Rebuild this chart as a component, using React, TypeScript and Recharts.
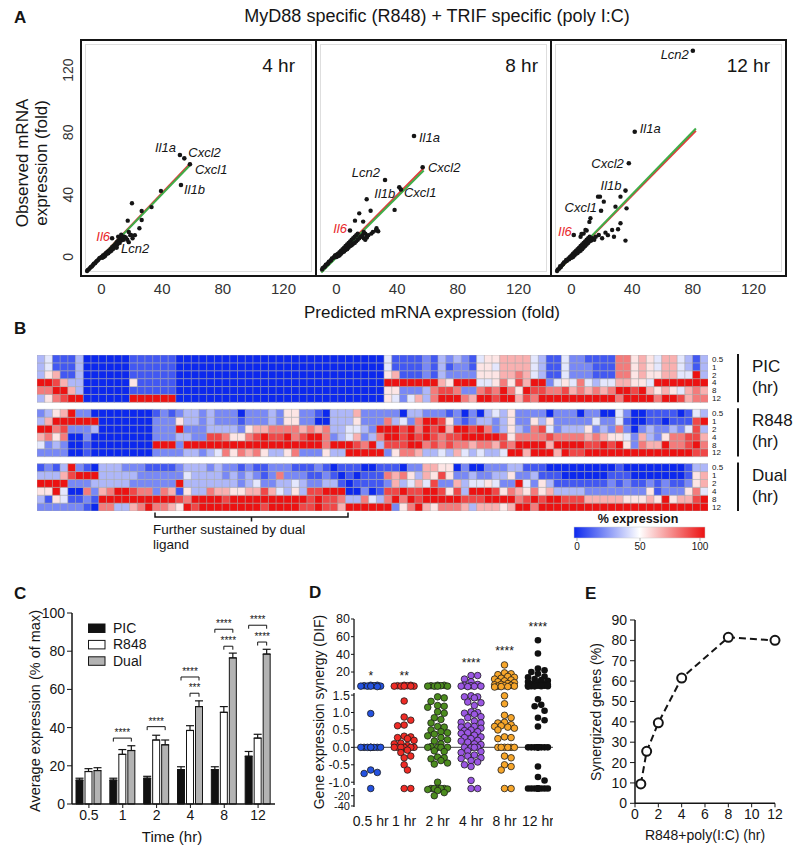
import React from "react";
import {
  ScatterChart,
  Scatter,
  XAxis,
  YAxis,
  ReferenceLine,
  BarChart,
  Bar,
  Cell,
  ErrorBar,
  LabelList,
  LineChart,
  Line,
} from "recharts";

const FONT = '"Liberation Sans", Arial, Helvetica, sans-serif';
const INK = "#151515";

/* ---------- A: observed vs predicted fold ---------- */
const hoursA = ["4 hr", "8 hr", "12 hr"];

const cloud4h: [number, number][] = [
  [-9.5, -9], [-9, -8.4], [-8.2, -7.8], [-7.5, -7], [-7, -6.5], [-6.2, -6], [-5.5, -5], [-5, -4.4],
  [-4.2, -4], [-3.5, -3], [-3, -2.6], [-2.2, -2], [-1.5, -1], [-1, -0.6], [0, 0], [0.5, -0.6],
  [1, 1], [1.5, 0], [2, 1.6], [2.5, 0.8], [3, 2.5], [3.5, 2], [4, 3.4], [4.5, 2.4], [5, 4],
  [5.5, 3.4], [6, 5], [6.5, 4], [7, 6.2], [7.5, 5], [8, 7], [8.5, 6], [9, 8], [9.5, 7], [10, 9.5],
  [10.5, 8], [11, 10.2], [12, 9], [12.5, 12], [13, 10.5], [14, 12], [14.5, 11], [15, 13], [16, 12.5],
  [17, 11], [18, 9.5], [13, 14.2], [11, 13], [19, 14], [22, 14], [18, 16], [17.3, 23.3], [20.1, 34.5],
  [26.5, 23.7], [25, 18.4], [26.5, 29.5], [33, 32], [39.2, 42.4], [19.5, 14.1], [20.5, 12],
];
const cloud8h: [number, number][] = [
  [-9.5, -8], [-9, -7], [-8, -6.5], [-7.5, -6], [-7, -5], [-6, -4.5], [-5.5, -4], [-5, -3], [-4, -2.5],
  [-3.5, -2], [-3, -1], [-2, -0.5], [-1.5, 0], [-1, 1], [0, 1.5], [0, 0], [1, 2], [1, 0.5], [2, 3],
  [2, 1], [3, 4], [3, 2], [4, 5], [4, 3], [5, 6], [5, 3.5], [6, 7], [6, 4.5], [7, 8], [7, 5], [8, 9],
  [8, 6], [9, 10], [9, 7], [10, 11], [10, 7.5], [11, 12], [11, 8.5], [12, 13], [12, 9], [13, 14],
  [13, 10], [14, 15], [14, 11], [15, 12], [16, 13], [17, 14], [18, 12], [19, 15], [20, 13], [21, 14],
  [19, 11], [24, 16], [26, 17], [27.5, 16.5], [23, 15], [12.2, 23.3], [15, 28], [19.9, 37], [22.5, 29.7],
  [26.4, 18.4], [17.6, 22.7], [38.3, 30.2], [20, 12.5], [18, 16],
];
const cloud12h: [number, number][] = [
  [-9.5, -9], [-9, -8], [-8, -7.5], [-7.5, -6], [-7, -6.5], [-6, -5], [-5.5, -4.5], [-5, -3.5], [-4, -3],
  [-3.5, -2], [-3, -2.5], [-2, -1], [-1.5, -1.5], [-1, 0], [0, 1], [0, -0.5], [1, 2], [1, 0], [2, 3],
  [2, 1], [3, 4], [3, 2], [4, 5], [4, 2.5], [5, 6], [5, 3.5], [6, 7], [6, 4], [7, 8], [7, 5], [8, 9],
  [8, 6], [9, 10], [9, 7], [10, 11], [10, 8], [11, 12], [11, 9], [12, 13], [12, 10], [13, 10.5], [14, 12],
  [15, 11], [6, 13], [8, 15], [10, 17], [11.8, 22.5], [12.5, 24.8], [9.2, 17.3], [6.6, 14.8], [17.5, 38.7],
  [18.8, 38.7], [21.3, 35.5], [29, 32.3], [32.3, 38.7], [36.3, 31.2], [32.3, 21.6], [30.7, 17.8],
  [35.6, 10.5], [26.8, 17.3], [22.4, 15.6], [18, 14.1], [20.2, 12], [16, 13], [24, 14], [28, 13],
];

const genes4h = [
  { name: "Il1a", x: 51.7, y: 65.5 },
  { name: "Cxcl2", x: 54.6, y: 63.3 },
  { name: "Cxcl1", x: 58.3, y: 59.5 },
  { name: "Il1b", x: 52.4, y: 46.2 },
  { name: "Lcn2", x: 10, y: 6 },
  { name: "Il6", x: 7, y: 12 },
];
const genes8h = [
  { name: "Lcn2", x: 32, y: 49.4 },
  { name: "Il1b", x: 41.4, y: 44.7 },
  { name: "Il1a", x: 51.1, y: 77.7 },
  { name: "Cxcl2", x: 56.8, y: 57.6 },
  { name: "Cxcl1", x: 42.5, y: 43.3 },
  { name: "Il6", x: 8.9, y: 17 },
];
const genes12h = [
  { name: "Lcn2", x: 80, y: 132.4 },
  { name: "Il1a", x: 41.7, y: 80.4 },
  { name: "Cxcl2", x: 37.8, y: 60.2 },
  { name: "Il1b", x: 35.6, y: 42.6 },
  { name: "Cxcl1", x: 19.5, y: 29.7 },
  { name: "Il6", x: 1.5, y: 14.1 },
];

// regression lines (red = fit, green = identity-ish)
const fitRed = [
  [[-10, -10], [59, 60.5]],
  [[-10, -9.5], [57.5, 57]],
  [[-10, -10], [82, 81]],
];
const fitGreen = [
  [[-10, -10], [58.5, 59]],
  [[-10, -10], [57.5, 55.5]],
  [[-10, -10], [82, 82.5]],
];

// label placement: dx, dy, anchor
const genePlace: Record<string, [number, number, "start" | "end"]> = {
  "0:Il1a": [-4, -3.3, "end"],
  "0:Cxcl2": [4, -1.6, "start"],
  "0:Cxcl1": [5, 10, "start"],
  "0:Il1b": [3, 9.3, "start"],
  "0:Lcn2": [4.3, 5.7, "start"],
  "0:Il6": [-2, 2.4, "end"],
  "1:Lcn2": [-5, -2.7, "end"],
  "1:Il1b": [-4, 10.4, "end"],
  "1:Il1a": [5, 5.7, "start"],
  "1:Cxcl2": [5.3, 4.4, "start"],
  "1:Cxcl1": [3, 7.2, "start"],
  "1:Il6": [-3, 2.2, "end"],
  "2:Lcn2": [-4, 8.3, "end"],
  "2:Il1a": [5, 1, "start"],
  "2:Cxcl2": [-5, 5, "end"],
  "2:Il1b": [-4, -0.7, "end"],
  "2:Cxcl1": [-4, 1.6, "end"],
  "2:Il6": [-2, 0.7, "end"],
};

/* ---------- B: heatmap (% of max, one digit = 0..9 -> 0..100%) ---------- */
const heatTimes = ["0.5", "1", "2", "4", "8", "12"];
const heatPIC = [
  "341113 000000 111111 000000000 000000000 000000000 41111213232145566664 3114221111775654664313",
  "341113 000000 111111 000000000 000000000 000000000 41111213122155466664 3114222111775654664313",
  "356113 000000 111111 000000000 000000000 000000000 56111213222255566764 3114222111775655664493",
  "998633 000000 511111 000000000 000000000 000000000 99999996599944575869 9245474344665549999999",
  "779963 000000 111111 000000000 000000000 000000000 55222378872278797598 8778676767998965654676",
  "357899 000000 999999 000000000 000000000 000000000 54246379997699899687 9999999999799997998677",
];
const heatR848 = [
  "2356922000000001212332 3222022232552210333622 222033222120203435222 2022202200420011110143",
  "3699999900000002225332 3222122232552200333522 273427998521233235225 3522222422410011011189",
  "9978222300000002229222 3333256677776767334432 999897989699897235327 8423335232720232232483",
  "6757002000000002223322 8875578988978997234623 799898987889999985777 7877776765542632577886",
  "4232001000000009992999 9999999999999997999879 388899787877677687999 9699998898952766977897",
  "2222001000000002222332 3475767533572225339999 925776334364343349969 9969889999999999999988",
];
const heatDual = [
  "1213921033322211112333 2322121122211121011100 111022665502002223311 1000000000100000000133",
  "3336899933333222222433 3323232127222112101011 176753658522322335223 1110000001110000000156",
  "9999222333332222229333 3333234223343223310111 126346482263445422942 5311111112121121211256",
  "5594007267998772761533 7665566864353889990020 188988998583999857657 5633332222222251222574",
  "3154112199999999998799 9989999999999898873374 379798999998889999789 8998886666655565956689",
  "2222221077336797765989 9999999899998898869999 992579657776366656997 9999999999999999999999",
];
const heatBlocks = [
  { name: "PIC", rows: heatPIC },
  { name: "R848", rows: heatR848 },
  { name: "Dual", rows: heatDual },
];
const N_GENES = 87;

/* ---------- C: average expression ---------- */
const timesC = ["0.5", "1", "2", "4", "8", "12"];
const picMean = [12.5, 12.5, 13.5, 18, 18, 25];
const picSem = [1, 1, 1, 1.5, 1.5, 2.5];
const r848Mean = [17, 26, 33.5, 38.5, 48, 34.5];
const r848Sem = [1.5, 2.5, 2.5, 2.5, 3, 2];
const dualMean = [17.5, 28, 31, 51, 76.5, 78.5];
const dualSem = [1.5, 2.5, 2.5, 3, 2.5, 2.5];
const sigPicDual = ["", "****", "****", "****", "****", "****"];
const sigPicDualAt = [0, 34.5, 40.5, 66.5, 91.5, 93.6];
const sigR848Dual = ["", "", "", "***", "****", "****"];
const sigR848DualAt = [0, 0, 0, 58, 82.6, 84.8];

/* ---------- D: gene expression synergy (DIF) ---------- */
const difGroups = ["0.5 hr", "1 hr", "2 hr", "4 hr", "8 hr", "12 hr"];
const difColors = ["#2452e0", "#ef2b25", "#4c8c1e", "#9b57e3", "#f7a62a", "#111111"];
const dif05 = [5, 4.5, 4, 4, 3.5, 4, 4, 4.5, 5, 0.97, 0, 0, 0, 0, 0, 0, 0, 0, 0, -0.65, -0.72, -0.75, -6];
const dif1 = [
  5, 4.5, 4, 4, 4, 4, 4, 4.5, 5, 1.33, 0.87, 0.78, 0.64, 0.62, 0.32, 0.3, 0.28, 0.25, 0.2, 0.12, 0.1,
  0.05, 0, 0, 0, 0, 0, 0, -0.08, -0.15, -0.25, -0.3, -0.5, -0.65, -6, -6,
];
const dif2 = [
  5, 4.5, 4, 4, 4, 4, 4.5, 5, 1.45, 1.42, 1.32, 1.2, 1.18, 1.15, 1.02, 0.98, 0.85, 0.8, 0.7, 0.6, 0.58,
  0.5, 0.45, 0.42, 0.38, 0.33, 0.28, 0.22, 0.18, 0.1, 0.02, 0, 0, 0, 0, -0.1, -0.12, -0.28, -0.3, -0.33,
  -0.38, -0.45, -0.48, -1.0, -6, -6, -6, -6, -6, -7, -8, -10, -14, -20,
];
const dif4 = [
  16, 16, 12, 9, 6, 5, 4.5, 4, 4, 3.8, 3.5, 1.48, 1.45, 1.45, 1.42, 1.3, 1.28, 1.2, 1.02, 1.0, 0.98,
  0.95, 0.88, 0.85, 0.75, 0.72, 0.7, 0.62, 0.6, 0.58, 0.55, 0.5, 0.48, 0.45, 0.42, 0.4, 0.35, 0.3, 0.28,
  0.25, 0.2, 0.18, 0.15, 0.1, 0.08, 0, 0, 0, 0, -0.1, -0.12, -0.15, -0.22, -0.25, -0.3, -0.32, -0.38,
  -0.42, -0.5, -0.55, -0.95, -6, -6,
];
const dif8 = [
  28, 19, 18, 17, 15, 14, 13, 12, 11, 10, 9, 8, 7, 6, 5.5, 5, 4.5, 4, 4, 3.5, 3.5, 3, 1.48, 1.25, 0.92,
  0.85, 0.72, 0.7, 0.65, 0.62, 0.6, 0.58, 0.55, 0.5, 0.3, 0.28, 0.25, 0, 0, 0, 0, 0, 0, -0.25, -0.3,
  -0.5, -0.55, -0.65, -6, -6,
];
const dif12 = [
  56, 41, 24, 22, 20, 18, 15, 14, 12, 11, 10, 9, 8, 7, 6.5, 6, 5.5, 5, 5, 4.5, 4.5, 4, 4, 4, 3.8, 3.5,
  1.38, 1.22, 1.18, 1.05, 0.85, 0.78, 0.6, 0, 0, 0, 0, 0, 0, 0, 0, 0, 0, -0.55, -0.85, -0.95, -6, -6,
  -6, -6, -6, -6, -6, -6, -6, -6,
];
const difValues = [dif05, dif1, dif2, dif4, dif8, dif12];
const difStars = ["*", "**", "", "****", "****", "****"];
const difStarAt = [16, 16, 0, 30, 44, 71];

/* ---------- E: synergized genes ---------- */
const hoursE = [0.5, 1, 2, 4, 8, 12];
const synergized = [9.5, 25.5, 39.5, 61.5, 81.5, 80];

/* ================= helpers ================= */
const A_XDOM: [number, number] = [-13.5, 141.4];
const A_YDOM: [number, number] = [-11.6, 139.3];
const A_TICKS = [0, 40, 80, 120];
const A_LEFT = [81, 316, 551];

const RotTick = (p: any) => (
  <text x={p.x} y={p.y} transform={`rotate(-90 ${p.x} ${p.y})`} textAnchor="middle" fontSize={14} fill="#333">
    {p.payload.value}
  </text>
);

const smallDot = (p: any) => <circle cx={p.cx} cy={p.cy} r={2.2} fill={INK} />;

const geneShape = (panel: number) => (p: any) => {
  const name = p.payload.name;
  const [dx, dy, anchor] = genePlace[`${panel}:${name}`] || [4, 4, "start"];
  return (
    <g>
      <circle cx={p.cx} cy={p.cy} r={2.3} fill={INK} />
      <text
        x={p.cx + dx}
        y={p.cy + dy}
        textAnchor={anchor}
        fontSize={13}
        fontStyle="italic"
        fill={name === "Il6" ? "#e8262b" : INK}
      >
        {name}
      </text>
    </g>
  );
};

function FoldPanel({ idx, cloud, genes }: { idx: number; cloud: [number, number][]; genes: any[] }) {
  const showY = idx === 0;
  const yw = showY ? 40 : 0;
  const pts = cloud.map(([x, y]) => ({ x, y }));
  const seg = (s: number[][]) => [
    { x: s[0][0], y: s[0][1] },
    { x: s[1][0], y: s[1][1] },
  ];
  return (
    <ScatterChart width={235 + yw} height={265} margin={{ top: 0, right: 0, bottom: 0, left: 0 }}>
      <XAxis
        type="number"
        dataKey="x"
        domain={A_XDOM}
        ticks={A_TICKS}
        interval={0}
        allowDataOverflow
        axisLine={false}
        tickLine={false}
        height={30}
        tick={{ fontSize: 15, fill: "#333" }}
      />
      <YAxis
        type="number"
        dataKey="y"
        domain={A_YDOM}
        ticks={A_TICKS}
        interval={0}
        allowDataOverflow
        hide={!showY}
        width={yw}
        axisLine={false}
        tickLine={false}
        tick={<RotTick />}
      />
      <Scatter data={pts} shape={smallDot} isAnimationActive={false} />
      <ReferenceLine segment={seg(fitRed[idx])} stroke="#e23b3b" strokeWidth={2} />
      <ReferenceLine segment={seg(fitGreen[idx])} stroke="#3fae49" strokeWidth={2} />
      <Scatter data={genes} shape={geneShape(idx)} isAnimationActive={false} />
    </ScatterChart>
  );
}

function PanelAFrame() {
  return (
    <>
      {A_LEFT.map((x) => (
        <div
          key={x}
          style={{
            position: "absolute",
            left: x + 4,
            top: 44,
            width: 227,
            height: 228,
            border: "1.5px solid #dedede",
            boxSizing: "border-box",
          }}
        />
      ))}
      <div
        style={{
          position: "absolute",
          left: 80,
          top: 39,
          width: 707,
          height: 238,
          border: `2px solid ${INK}`,
          boxSizing: "border-box",
        }}
      />
      {[316, 551].map((x) => (
        <div key={x} style={{ position: "absolute", left: x - 1, top: 39, width: 2, height: 238, background: INK }} />
      ))}
    </>
  );
}

const BLUE = [12, 40, 238];
const RED = [236, 18, 18];
function heatColor(d: number) {
  const t = d / 9;
  const mix = (a: number[], b: number[], f: number) =>
    `rgb(${a.map((v, i) => Math.round(v + (b[i] - v) * f)).join(",")})`;
  return t < 0.5 ? mix(BLUE, [255, 255, 255], t / 0.5) : mix([255, 255, 255], RED, (t - 0.5) / 0.5);
}
const parseRow = (s: string) =>
  s.replace(/\s/g, "").padEnd(N_GENES, "0").slice(0, N_GENES).split("").map(Number);

function Heatmap() {
  const GAP = 0.89;
  const stack: { key: string; vals: number[] | null }[] = [];
  [...heatBlocks].reverse().forEach((b, bi) => {
    if (bi > 0) stack.push({ key: `gap${bi}`, vals: null });
    [...b.rows].reverse().forEach((r, ri) => stack.push({ key: `${b.name}_${5 - ri}`, vals: parseRow(r) }));
  });
  const data = Array.from({ length: N_GENES }, (_, i) => {
    const o: any = { gene: i };
    stack.forEach((s) => (o[s.key] = s.vals ? 1 : GAP));
    return o;
  });
  return (
    <BarChart width={671} height={156} data={data} margin={{ top: 0, right: 0, bottom: 0, left: 0 }} barCategoryGap={0} barGap={0}>
      <XAxis dataKey="gene" hide />
      <YAxis type="number" domain={[0, 18 + 2 * GAP]} hide />
      {stack.map((s) => (
        <Bar key={s.key} dataKey={s.key} stackId="h" isAnimationActive={false} fill="transparent">
          {data.map((_, i) =>
            s.vals ? (
              <Cell key={i} fill={heatColor(s.vals[i])} stroke="#a9a9a9" strokeWidth={0.5} />
            ) : (
              <Cell key={i} fill="transparent" />
            )
          )}
        </Bar>
      ))}
    </BarChart>
  );
}

function AverageBars() {
  const data = timesC.map((t, i) => ({
    t,
    pic: picMean[i],
    r848: r848Mean[i],
    dual: dualMean[i],
    picE: [0, picSem[i]],
    r848E: [0, r848Sem[i]],
    dualE: [0, dualSem[i]],
  }));
  const brackets = (p: any) => {
    const vb = p.viewBox || p;
    const i = p.index;
    const { x, y, width, height } = vb;
    const base = y + height;
    const perUnit = height / dualMean[i];
    const step = width + 2;
    const cD = x + width / 2;
    const cR = cD - step;
    const cP = cD - 2 * step;
    const one = (x1: number, x2: number, at: number, txt: string, k: string) => {
      if (!txt) return null;
      const yy = base - at * perUnit;
      return (
        <g key={k}>
          <path d={`M${x1},${yy + 3.5}V${yy}H${x2}V${yy + 3.5}`} fill="none" stroke={INK} strokeWidth={1} />
          <text x={(x1 + x2) / 2} y={yy - 2} textAnchor="middle" fontSize={10} fill={INK}>
            {txt}
          </text>
        </g>
      );
    };
    return (
      <g>
        {one(cP, cD, sigPicDualAt[i], sigPicDual[i], "pd")}
        {one(cR, cD, sigR848DualAt[i], sigR848Dual[i], "rd")}
      </g>
    );
  };
  return (
    <BarChart width={280} height={230} data={data} margin={{ top: 13, right: 5, bottom: 0, left: 0 }} barGap={2} barSize={7}>
      <XAxis
        dataKey="t"
        height={26}
        interval={0}
        axisLine={{ stroke: INK, strokeWidth: 1.5 }}
        tickLine={{ stroke: INK }}
        tickSize={4}
        tick={{ fontSize: 14, fill: INK }}
      />
      <YAxis
        type="number"
        domain={[0, 100]}
        ticks={[0, 20, 40, 60, 80, 100]}
        interval={0}
        width={72}
        axisLine={{ stroke: INK, strokeWidth: 1.5 }}
        tickLine={{ stroke: INK }}
        tickSize={5}
        tick={{ fontSize: 14, fill: INK }}
      />
      <Bar dataKey="pic" fill="#111" stroke={INK} strokeWidth={1} isAnimationActive={false}>
        <ErrorBar dataKey="picE" width={4} stroke={INK} strokeWidth={1.2} direction="y" />
      </Bar>
      <Bar dataKey="r848" fill="#fff" stroke={INK} strokeWidth={1} isAnimationActive={false}>
        <ErrorBar dataKey="r848E" width={4} stroke={INK} strokeWidth={1.2} direction="y" />
      </Bar>
      <Bar dataKey="dual" fill="#b3b3b3" stroke={INK} strokeWidth={1} isAnimationActive={false}>
        <ErrorBar dataKey="dualE" width={4} stroke={INK} strokeWidth={1.2} direction="y" />
        <LabelList dataKey="dual" content={brackets} />
      </Bar>
    </BarChart>
  );
}

/* beeswarm layout for D (pixels per unit for each axis segment) */
const SEG_PX: Record<string, number> = { top: 70.7 / 80, mid: 34.85, bot: 19 / 37 };
const segOf = (v: number) => (v >= 2 ? "top" : v <= -2 ? "bot" : "mid");
const DOT_R = 3.3;
const GROUP_W = 33.45;
function swarm(values: number[]) {
  const placed: { seg: string; px: number; py: number }[] = [];
  const offs = [0, 1, -1, 2, -2, 3, -3].map((k) => k * DOT_R);
  return [...values]
    .sort((a, b) => b - a)
    .map((v) => {
      const seg = segOf(v);
      const py = v * SEG_PX[seg];
      let best = 0;
      let bestGap = -1;
      for (const o of offs) {
        let gap = Infinity;
        for (const q of placed) if (q.seg === seg) gap = Math.min(gap, Math.hypot(q.px - o, q.py - py));
        if (gap >= 2 * DOT_R * 0.9) {
          best = o;
          break;
        }
        if (gap > bestGap) {
          bestGap = gap;
          best = o;
        }
      }
      placed.push({ seg, px: best, py });
      return { v, seg, off: best / GROUP_W };
    });
}

function DifPanel() {
  const swarms = difValues.map((vals, gi) => swarm(vals).map((p) => ({ x: gi + p.off, y: p.v, seg: p.seg })));
  const stars = difStars.map((s, i) => ({ x: i, y: difStarAt[i], s })).filter((d) => d.s);
  const X_DOM: [number, number] = [-0.5, 5.45];
  // each segment: plot top/height in page px, padded so edge tick labels are not clipped
  const PAD = 8;
  const segs = [
    { seg: "top", plotTop: 619.3, plotH: 70.7, xh: 0, dom: [0, 80], ticks: [20, 40, 60, 80], fs: 12.5, fmt: (v: number) => `${v}` },
    {
      seg: "mid",
      plotTop: 693,
      plotH: 92,
      xh: 0,
      dom: [-1.08, 1.56],
      ticks: [-1, -0.5, 0, 0.5, 1, 1.5],
      fs: 12.5,
      fmt: (v: number) => v.toFixed(1),
    },
    { seg: "bot", plotTop: 788, plotH: 19, xh: 28, dom: [-42, -5], ticks: [-40, -20], fs: 11, fmt: (v: number) => `${v}` },
  ];
  return (
    <>
      {segs.map((s) => (
        <div key={s.seg} style={{ position: "absolute", left: 310, top: s.plotTop - PAD }}>
          <ScatterChart
            width={243}
            height={s.plotH + 2 * PAD + s.xh}
            margin={{ top: PAD, right: 0, bottom: s.xh ? 0 : PAD, left: 0 }}
          >
            <XAxis
              type="number"
              dataKey="x"
              domain={X_DOM}
              ticks={[0, 1, 2, 3, 4, 5]}
              interval={0}
              tickFormatter={(i: number) => difGroups[i]}
              hide={s.seg !== "bot"}
              height={s.xh + PAD}
              axisLine={false}
              tickLine={false}
              tickSize={PAD + 1}
              tickMargin={0}
              tick={{ fontSize: 14, fill: INK }}
            />
            <YAxis
              type="number"
              dataKey="y"
              domain={s.dom}
              ticks={s.ticks}
              interval={0}
              tickFormatter={s.fmt}
              width={44}
              axisLine={{ stroke: INK, strokeWidth: 1.3 }}
              tickLine={{ stroke: INK }}
              tickSize={3}
              tickMargin={1}
              tick={{ fontSize: s.fs, fill: INK }}
            />
            {s.seg === "mid" && <ReferenceLine y={0} stroke="#666" strokeWidth={1.2} />}
            {swarms.map((pts, gi) => (
              <Scatter
                key={gi}
                data={pts.filter((p) => p.seg === s.seg)}
                isAnimationActive={false}
                shape={(p: any) => (
                  <circle
                    cx={p.cx}
                    cy={p.cy}
                    r={DOT_R}
                    fill={difColors[gi]}
                    stroke="#1c1c1c"
                    strokeWidth={gi === 5 ? 0 : 0.8}
                  />
                )}
              />
            ))}
            {s.seg === "top" && (
              <Scatter
                data={stars}
                isAnimationActive={false}
                shape={(p: any) => (
                  <text x={p.cx} y={p.cy + 4} textAnchor="middle" fontSize={12} fill={INK}>
                    {p.payload.s}
                  </text>
                )}
              />
            )}
          </ScatterChart>
        </div>
      ))}
    </>
  );
}

function SynergyLine() {
  const data = hoursE.map((h, i) => ({ h, pct: synergized[i] }));
  return (
    <LineChart width={195} height={221.3} data={data} margin={{ top: 8, right: 15, bottom: 0, left: 0 }}>
      <XAxis
        type="number"
        dataKey="h"
        domain={[0, 12]}
        ticks={[0, 2, 4, 6, 8, 10, 12]}
        interval={0}
        height={30}
        axisLine={{ stroke: INK, strokeWidth: 1.5 }}
        tickLine={{ stroke: INK }}
        tickSize={4}
        tick={{ fontSize: 14, fill: INK }}
      />
      <YAxis
        type="number"
        domain={[0, 90]}
        ticks={[0, 10, 20, 30, 40, 50, 60, 70, 80, 90]}
        interval={0}
        width={40}
        axisLine={{ stroke: INK, strokeWidth: 1.5 }}
        tickLine={{ stroke: INK }}
        tickSize={5}
        tickMargin={3}
        tick={{ fontSize: 14, fill: INK }}
      />
      <Line
        dataKey="pct"
        stroke={INK}
        strokeWidth={2}
        strokeDasharray="7 4"
        dot={{ r: 4.5, fill: "#fff", stroke: INK, strokeWidth: 2, strokeDasharray: "0" }}
        isAnimationActive={false}
      />
    </LineChart>
  );
}

function Overlay() {
  const blockTops = [355, 409.3, 463.6];
  const rowH = 7.887;
  const legendC = [
    { name: "PIC", fill: "#111" },
    { name: "R848", fill: "#fff" },
    { name: "Dual", fill: "#b3b3b3" },
  ];
  return (
    <svg
      width={800}
      height={853}
      style={{ position: "absolute", left: 0, top: 0, pointerEvents: "none" }}
      fontFamily={FONT}
      fill={INK}
    >
      <defs>
        <linearGradient id="cbar" x1="0" x2="1" y1="0" y2="0">
          <stop offset="0" stopColor={heatColor(0)} />
          <stop offset="0.5" stopColor="#ffffff" />
          <stop offset="1" stopColor={heatColor(9)} />
        </linearGradient>
      </defs>

      {/* A */}
      <text x={14} y={23} fontSize={17} fontWeight="bold">A</text>
      <text x={437} y={22} fontSize={18} textAnchor="middle">
        MyD88 specific (R848) + TRIF specific (poly I:C)
      </text>
      {hoursA.map((h, i) => (
        <text key={h} x={[295, 538, 770][i]} y={72} fontSize={19} textAnchor="end">
          {h}
        </text>
      ))}
      <text transform="translate(28,163) rotate(-90)" fontSize={17} textAnchor="middle">Observed mRNA</text>
      <text transform="translate(47,163) rotate(-90)" fontSize={17} textAnchor="middle">expression (fold)</text>
      <text x={432} y={318} fontSize={17} textAnchor="middle">Predicted mRNA expression (fold)</text>

      {/* B */}
      <text x={14} y={334} fontSize={17} fontWeight="bold">B</text>
      {heatBlocks.map((b, bi) => (
        <g key={b.name}>
          {heatTimes.map((t, ri) => (
            <text key={t} x={712} y={blockTops[bi] + (ri + 0.5) * rowH + 2.8} fontSize={8}>
              {t}
            </text>
          ))}
          <line x1={738} x2={738} y1={blockTops[bi] - 1} y2={blockTops[bi] + 6 * rowH} stroke={INK} strokeWidth={2} />
          <text x={752} y={blockTops[bi] + 17} fontSize={17}>{b.name}</text>
          <text x={752} y={blockTops[bi] + 38} fontSize={17}>(hr)</text>
        </g>
      ))}
      <path d="M155,512.5V517H348V512.5M251.5,517V521.5" fill="none" stroke={INK} strokeWidth={1.5} />
      <text x={153} y={534} fontSize={13.5}>Further sustained by dual</text>
      <text x={153} y={549} fontSize={13.5}>ligand</text>
      <text x={638} y={523} fontSize={12.5} fontWeight="bold" textAnchor="middle">% expression</text>
      <rect x={574} y={527} width={131} height={11} fill="url(#cbar)" stroke="#ccc" strokeWidth={0.5} />
      {[
        [577, "0"],
        [640, "50"],
        [700, "100"],
      ].map(([x, t]) => (
        <g key={t as string}>
          <line x1={x as number} x2={x as number} y1={538} y2={541} stroke="#999" strokeWidth={0.8} />
          <text x={x as number} y={550} fontSize={10} textAnchor="middle">{t}</text>
        </g>
      ))}

      {/* C */}
      <text x={14} y={599} fontSize={17} fontWeight="bold">C</text>
      {legendC.map((l, i) => (
        <g key={l.name}>
          <rect x={88.5} y={624 + i * 16.4} width={16.5} height={8.5} fill={l.fill} stroke={INK} strokeWidth={1} />
          <text x={113} y={633 + i * 16.4} fontSize={14}>{l.name}</text>
        </g>
      ))}
      <text transform="translate(40,711) rotate(-90)" fontSize={14.5} textAnchor="middle">
        Average expression (% of max)
      </text>
      <text x={172} y={842} fontSize={15} textAnchor="middle">Time (hr)</text>

      {/* D */}
      <text x={309} y={598} fontSize={17} fontWeight="bold">D</text>
      <text transform="translate(324,712) rotate(-90)" fontSize={14} textAnchor="middle">
        Gene expression synergy (DIF)
      </text>

      {/* E */}
      <text x={585} y={599} fontSize={17} fontWeight="bold">E</text>
      <text transform="translate(601,712) rotate(-90)" fontSize={14} textAnchor="middle">
        Synergized genes (%)
      </text>
      <text x={705} y={840} fontSize={14} textAnchor="middle">R848+poly(I:C) (hr)</text>
    </svg>
  );
}

export default function App() {
  const clouds = [cloud4h, cloud8h, cloud12h];
  const genes = [genes4h, genes8h, genes12h];
  return (
    <div
      style={{
        position: "absolute",
        left: 0,
        top: 0,
        width: 800,
        height: 853,
        background: "#fff",
        fontFamily: FONT,
        color: INK,
        overflow: "hidden",
      }}
    >
      <PanelAFrame />
      {[0, 1, 2].map((i) => (
        <div key={i} style={{ position: "absolute", left: A_LEFT[i] - (i === 0 ? 40 : 0), top: 40 }}>
          <FoldPanel idx={i} cloud={clouds[i]} genes={genes[i]} />
        </div>
      ))}
      <div style={{ position: "absolute", left: 37, top: 355 }}>
        <Heatmap />
      </div>
      <div style={{ position: "absolute", left: 0, top: 600 }}>
        <AverageBars />
      </div>
      <DifPanel />
      <div style={{ position: "absolute", left: 595, top: 612 }}>
        <SynergyLine />
      </div>
      <Overlay />
    </div>
  );
}
